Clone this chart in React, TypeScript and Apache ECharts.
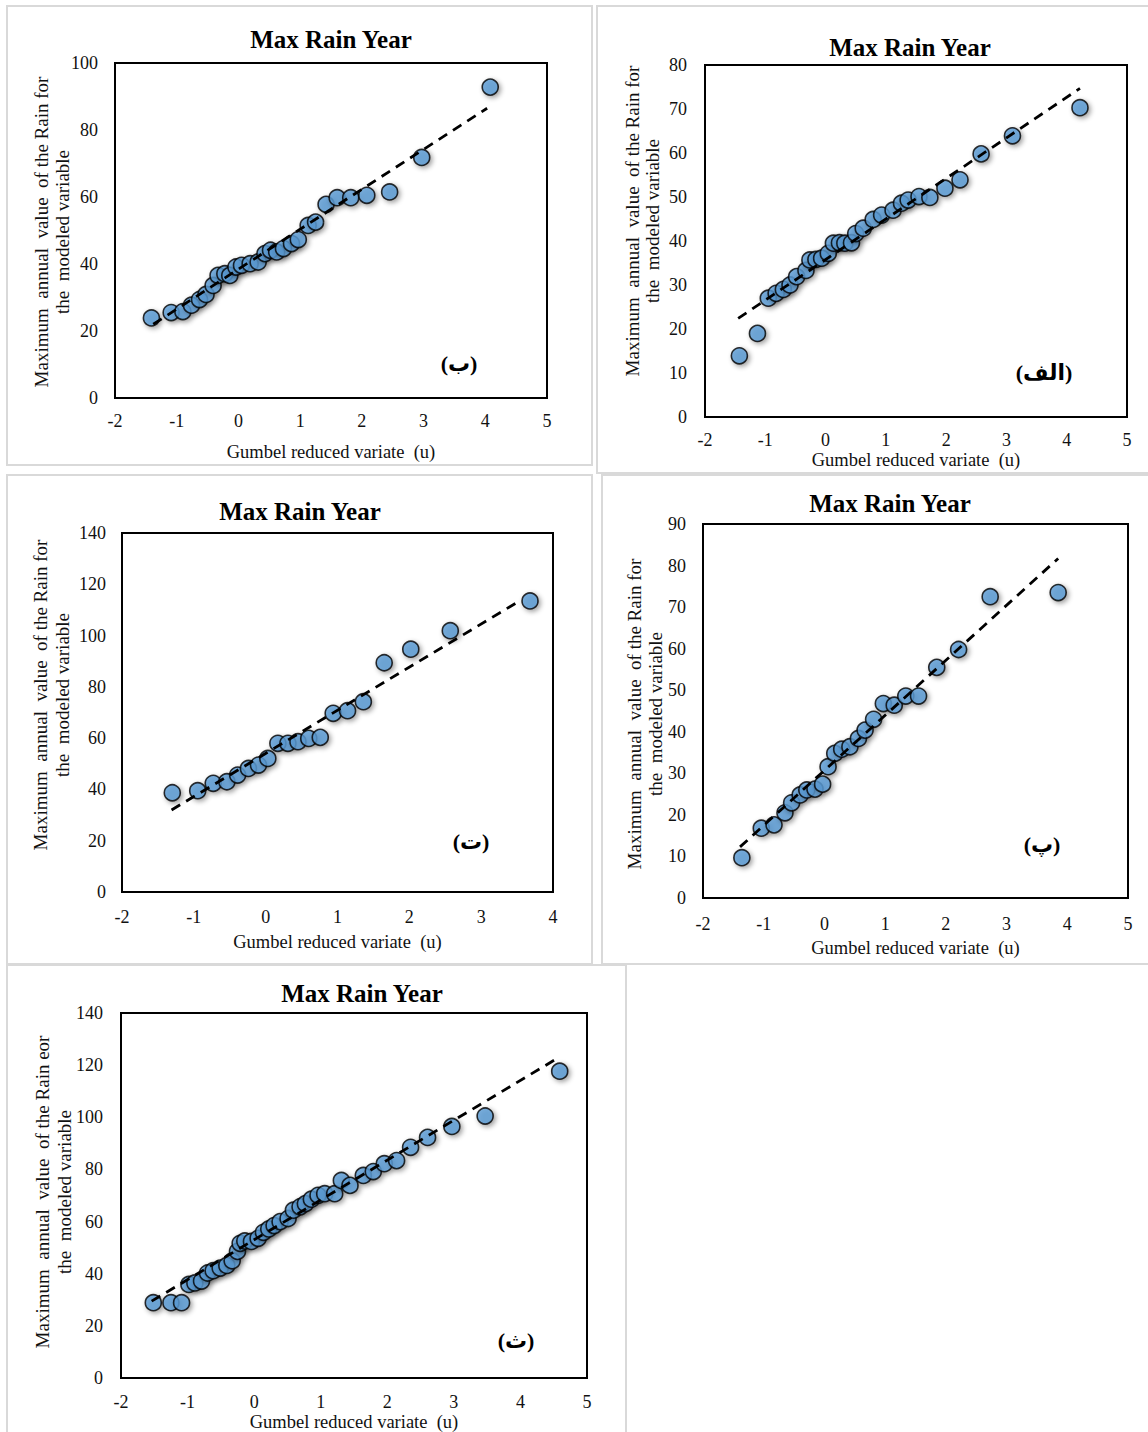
import React, { useEffect, useRef } from "react";
import * as echarts from "echarts";

// ---------- Data ----------
// Panel (ب)
const bU = [-1.41, -1.09, -0.9, -0.76, -0.63, -0.525, -0.41, -0.33, -0.22, -0.14, -0.04, 0.05, 0.19, 0.32, 0.43, 0.52, 0.62, 0.73, 0.86, 0.97, 1.13, 1.25, 1.42, 1.6, 1.82, 2.08, 2.45, 2.97, 4.08];
const bRain = [23.9, 25.5, 25.8, 27.7, 29.4, 30.9, 33.6, 36.6, 37.1, 36.6, 39.1, 39.6, 40.1, 40.6, 43.1, 44.1, 43.6, 44.6, 46.1, 47.3, 51.5, 52.5, 57.8, 59.8, 59.8, 60.5, 61.5, 71.8, 92.8];
const bTrendU = [-1.38, 4.03];
const bTrendRain = [22, 86.5];

// Panel (الف)
const alefU = [-1.43, -1.13, -0.95, -0.82, -0.7, -0.59, -0.48, -0.325, -0.26, -0.16, -0.065, 0.045, 0.13, 0.23, 0.32, 0.43, 0.5, 0.625, 0.79, 0.93, 1.12, 1.26, 1.37, 1.55, 1.73, 1.98, 2.23, 2.58, 3.1, 4.22];
const alefRain = [13.9, 19.0, 27.0, 28.1, 29.0, 30.0, 31.9, 33.3, 35.7, 35.8, 36.1, 37.2, 39.5, 39.6, 39.5, 39.6, 41.7, 42.9, 44.9, 45.9, 47.0, 48.6, 49.3, 50.1, 49.9, 52.0, 53.9, 59.8, 63.9, 70.3];
const alefTrendU = [-1.45, 4.22];
const alefTrendRain = [22.4, 74.7];

// Panel (ت)
const teU = [-1.3, -0.946, -0.73, -0.54, -0.39, -0.24, -0.1, 0.03, 0.17, 0.31, 0.45, 0.6, 0.76, 0.94, 1.14, 1.36, 1.65, 2.02, 2.57, 3.68];
const teRain = [38.7, 39.5, 42.4, 43.0, 45.6, 48.2, 49.5, 52.1, 58.0, 58.0, 58.6, 59.9, 60.3, 69.7, 70.7, 74.2, 89.4, 94.7, 101.9, 113.5];
const teTrendU = [-1.31, 3.54];
const teTrendRain = [32, 113.6];

// Panel (پ)
const peU = [-1.36, -1.04, -0.83, -0.65, -0.54, -0.4, -0.29, -0.155, -0.03, 0.06, 0.17, 0.285, 0.42, 0.56, 0.67, 0.81, 0.97, 1.15, 1.34, 1.55, 1.85, 2.21, 2.73, 3.85];
const peRain = [9.7, 16.8, 17.6, 20.5, 22.9, 24.8, 26.0, 26.2, 27.4, 31.6, 34.8, 35.8, 36.4, 38.4, 40.4, 43.0, 46.8, 46.4, 48.6, 48.6, 55.5, 59.8, 72.5, 73.5];
const peTrendU = [-1.39, 3.85];
const peTrendRain = [12.3, 81.7];

// Panel (ث)
const seU = [-1.515, -1.25, -1.09, -0.98, -0.89, -0.79, -0.7, -0.615, -0.51, -0.41, -0.33, -0.25, -0.21, -0.14, -0.04, 0.06, 0.14, 0.22, 0.3, 0.39, 0.51, 0.59, 0.69, 0.77, 0.86, 0.96, 1.06, 1.21, 1.31, 1.44, 1.64, 1.79, 1.955, 2.14, 2.35, 2.605, 2.97, 3.47, 4.59];
const seRain = [28.9, 28.9, 28.9, 35.9, 36.5, 37.2, 40.3, 41.2, 42.2, 43.2, 45.0, 48.6, 51.7, 52.6, 52.4, 53.6, 55.9, 57.2, 58.5, 60.0, 61.2, 64.4, 65.7, 66.9, 68.6, 70.1, 70.7, 70.7, 75.8, 73.9, 77.7, 79.2, 82.2, 83.4, 88.5, 92.3, 96.5, 100.5, 117.7];
const seTrendU = [-1.54, 4.54];
const seTrendRain = [29.5, 122.4];

// Axis ranges / tick labels
const xMinAll = -2;
const xMaxB = 5, xMaxAlef = 5, xMaxTe = 4, xMaxPe = 5, xMaxSe = 5;
const yMaxB = 100, yMaxAlef = 80, yMaxTe = 140, yMaxPe = 90, yMaxSe = 140;
const yStepB = 20, yStepAlef = 10, yStepTe = 20, yStepPe = 10, yStepSe = 20;

const titleText = "Max Rain Year";
const xName = "Gumbel reduced variate  (u)";
const yName1 = "Maximum  annual  value  of the Rain for";
const yName1Se = "Maximum  annual  value  of the Rain eor";
const yName2 = "the  modeled variable";
const tags = ["(ب)", "(الف)", "(ت)", "(پ)", "(ث)"];

const FONT = '"Liberation Serif", "Times New Roman", serif';
const TAGFONT = '"Liberation Serif", "DejaVu Serif", "DejaVu Sans", serif';

const zip = (u: number[], v: number[]) => u.map((x, i) => [x, v[i]]);

type Panel = {
  u: number[]; v: number[]; tu: number[]; tv: number[];
  xMax: number; yMax: number; yStep: number;
  grid: { left: number; top: number; width: number; height: number };
  box: [number, number, number, number];
  title: [number, number];
  yn: [number, number, number];
  tag: [number, number];
  xLabelMargin: number; xNameGap: number;
  yLabelMargin: number;
  y1: string;
};

const panels: Panel[] = [
  {
    u: bU, v: bRain, tu: bTrendU, tv: bTrendRain, xMax: xMaxB, yMax: yMaxB, yStep: yStepB,
    grid: { left: 115, top: 63, width: 432, height: 335 }, box: [7, 6, 585, 459],
    title: [331, 39], yn: [41, 62, 232], tag: [459, 363], xLabelMargin: 14, xNameGap: 44, yLabelMargin: 17, y1: yName1,
  },
  {
    u: alefU, v: alefRain, tu: alefTrendU, tv: alefTrendRain, xMax: xMaxAlef, yMax: yMaxAlef, yStep: yStepAlef,
    grid: { left: 705, top: 65, width: 422, height: 352 }, box: [597, 6, 580, 467],
    title: [910, 47], yn: [632, 652, 221], tag: [1044, 372], xLabelMargin: 14, xNameGap: 33, yLabelMargin: 18, y1: yName1,
  },
  {
    u: teU, v: teRain, tu: teTrendU, tv: teTrendRain, xMax: xMaxTe, yMax: yMaxTe, yStep: yStepTe,
    grid: { left: 122, top: 533, width: 431, height: 359 }, box: [7, 475, 585, 489],
    title: [300, 511], yn: [40, 62, 695], tag: [471, 841], xLabelMargin: 16, xNameGap: 40, yLabelMargin: 16, y1: yName1,
  },
  {
    u: peU, v: peRain, tu: peTrendU, tv: peTrendRain, xMax: xMaxPe, yMax: yMaxPe, yStep: yStepPe,
    grid: { left: 703, top: 524, width: 425, height: 374 }, box: [602, 475, 580, 489],
    title: [890, 503], yn: [634, 655, 714], tag: [1042, 844], xLabelMargin: 17, xNameGap: 40, yLabelMargin: 17, y1: yName1,
  },
  {
    u: seU, v: seRain, tu: seTrendU, tv: seTrendRain, xMax: xMaxSe, yMax: yMaxSe, yStep: yStepSe,
    grid: { left: 121, top: 1013, width: 466, height: 368 }, box: [7, 965, 619, 500],
    title: [362, 993], yn: [42, 64, 1192], tag: [516, 1340], xLabelMargin: 15, xNameGap: 32, yLabelMargin: 18, y1: yName1Se,
  },
];

function buildOption() {
  const grid: any[] = [];
  const xAxis: any[] = [];
  const yAxis: any[] = [];
  const series: any[] = [];
  const graphic: any[] = [];

  panels.forEach((p, i) => {
    graphic.push({
      type: "rect", silent: true, z: -10,
      shape: { x: p.box[0], y: p.box[1], width: p.box[2], height: p.box[3] },
      style: { fill: "none", stroke: "#d9d9d9", lineWidth: 2 },
    });
    grid.push({ ...p.grid, show: true, borderColor: "#000", borderWidth: 2, backgroundColor: "#fff", containLabel: false });
    xAxis.push({
      gridIndex: i, type: "value", min: xMinAll, max: p.xMax, interval: 1,
      axisLine: { show: false }, axisTick: { show: false }, splitLine: { show: false },
      axisLabel: { fontFamily: FONT, fontSize: 18, color: "#111", margin: p.xLabelMargin, showMinLabel: true, showMaxLabel: true },
      name: xName, nameLocation: "middle", nameGap: p.xNameGap,
      nameTextStyle: { fontFamily: FONT, fontSize: 18.5, color: "#111" },
    });
    yAxis.push({
      gridIndex: i, type: "value", min: 0, max: p.yMax, interval: p.yStep,
      axisLine: { show: false }, axisTick: { show: false }, splitLine: { show: false },
      axisLabel: { fontFamily: FONT, fontSize: 18, color: "#111", margin: p.yLabelMargin },
    });
    series.push({
      type: "scatter", xAxisIndex: i, yAxisIndex: i, z: 2,
      data: zip(p.u, p.v), symbol: "circle", symbolSize: 16,
      itemStyle: {
        color: "#5b9bd5", borderColor: "#000", borderWidth: 1.6,
        shadowBlur: 5, shadowColor: "rgba(0,0,0,0.45)", shadowOffsetX: 2, shadowOffsetY: 2,
      },
    });
    series.push({
      type: "line", xAxisIndex: i, yAxisIndex: i, z: 3,
      data: zip(p.tu, p.tv), symbol: "none", silent: true,
      lineStyle: { color: "#000", width: 2.8, type: [10, 7] },
    });
    graphic.push({
      type: "text", x: p.title[0], y: p.title[1], z: 10,
      style: { text: titleText, font: `bold 25px ${FONT}`, fill: "#000", textAlign: "center", textVerticalAlign: "middle", align: "center", verticalAlign: "middle" },
    });
    graphic.push({
      type: "text", x: p.yn[0], y: p.yn[2], rotation: Math.PI / 2, z: 10,
      style: { text: p.y1, font: `19px ${FONT}`, fill: "#111", textAlign: "center", textVerticalAlign: "middle", align: "center", verticalAlign: "middle" },
    });
    graphic.push({
      type: "text", x: p.yn[1], y: p.yn[2], rotation: Math.PI / 2, z: 10,
      style: { text: yName2, font: `19px ${FONT}`, fill: "#111", textAlign: "center", textVerticalAlign: "middle", align: "center", verticalAlign: "middle" },
    });
    graphic.push({
      type: "text", x: p.tag[0], y: p.tag[1], z: 10,
      style: { text: tags[i], font: `bold 22px ${TAGFONT}`, fill: "#000", textAlign: "center", textVerticalAlign: "middle", align: "center", verticalAlign: "middle" },
    });
  });

  return { animation: false, backgroundColor: "#fff", grid, xAxis, yAxis, series, graphic };
}

export default function App() {
  const ref = useRef<HTMLDivElement>(null);
  useEffect(() => {
    if (!ref.current) return;
    const chart = echarts.init(ref.current, undefined, { renderer: "svg" });
    chart.setOption(buildOption() as any);
    return () => chart.dispose();
  }, []);
  return <div ref={ref} style={{ position: "absolute", left: 0, top: 0, width: 1148, height: 1432, background: "#fff" }} />;
}
